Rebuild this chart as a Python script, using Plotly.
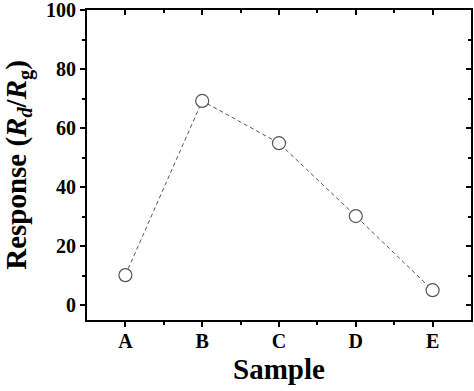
import plotly.graph_objects as go

samples = ["A", "B", "C", "D", "E"]
response = [10.2, 69.2, 54.9, 30.2, 5.1]
y_ticks = [0, 20, 40, 60, 80, 100]
y_minor = [10, 30, 50, 70, 90]

font_family = "Liberation Serif, Times New Roman, serif"
x_pos = list(range(len(samples)))

fig = go.Figure()
fig.add_trace(go.Scatter(
    x=x_pos, y=response, mode="lines+markers",
    line=dict(color="#555555", width=1, dash="4px,3px"),
    marker=dict(symbol="circle", size=13, color="white",
                line=dict(color="#555555", width=1.2)),
    showlegend=False, cliponaxis=False,
))
fig.add_trace(go.Scatter(x=x_pos, y=response, xaxis="x2", yaxis="y2",
                         mode="markers", marker=dict(opacity=0),
                         showlegend=False, hoverinfo="skip"))

common = dict(showgrid=False, zeroline=False, linecolor="black", linewidth=2,
              tickcolor="black", tickwidth=1.5, ticklen=5, automargin=False,
              ticklabeloverflow="allow")
tf = dict(size=20, family=font_family, weight="bold")

fig.update_layout(
    width=474, height=391,
    margin=dict(l=87, r=3, t=10, b=71),
    paper_bgcolor="white", plot_bgcolor="white",
    font=dict(family=font_family, color="black"),
    xaxis=dict(**common, range=[-0.5, 4.5], tickvals=x_pos, ticktext=samples,
               ticks="outside", showline=True, mirror=True, tickfont=tf,
               ticklabelstandoff=-3,
               title=dict(text="<b>Sample</b>", font=dict(size=29, family=font_family), standoff=8),
               minor=dict(tickvals=[0.5, 1.5, 2.5, 3.5], ticks="outside", ticklen=3,
                          tickcolor="black", tickwidth=1.5)),
    yaxis=dict(**common, range=[-5, 100], tickvals=y_ticks, ticks="outside",
               showline=True, mirror=True, tickfont=tf,
               title=dict(text="<b>Response (<i>R</i><sub><i>d</i></sub>/<i>R</i><sub>g</sub>)</b>",
                          font=dict(size=29, family=font_family), standoff=12),
               minor=dict(tickvals=y_minor, ticks="outside", ticklen=3,
                          tickcolor="black", tickwidth=1.5)),
    xaxis2=dict(**common, overlaying="x", side="top", matches="x",
                range=[-0.5, 4.5], tickvals=x_pos, ticks="inside",
                showticklabels=False, showline=False,
                minor=dict(tickvals=[0.5, 1.5, 2.5, 3.5], ticks="inside", ticklen=3,
                           tickcolor="black", tickwidth=1.5)),
    yaxis2=dict(**common, overlaying="y", side="right", matches="y", range=[-5, 100],
                tickvals=y_ticks, ticks="inside", showticklabels=False, showline=False,
                minor=dict(tickvals=y_minor, ticks="inside", ticklen=3,
                           tickcolor="black", tickwidth=1.5)),
)

fig.write_html("out.html", config={"displayModeBar": False},
               post_script="document.body.style.margin='0';document.body.style.overflow='hidden';")
